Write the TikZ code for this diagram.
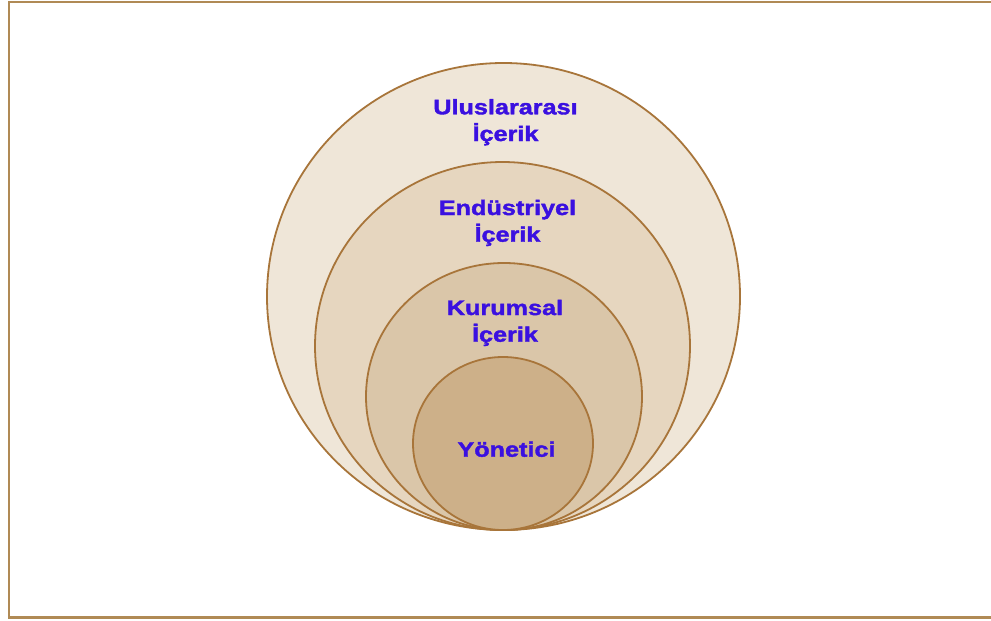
\documentclass[tikz,border=0pt]{standalone}
\usepackage{fontspec}
\newfontfamily\labfont[FakeStretch=1.2, FakeBold=1.8]{Liberation Sans Bold}
\begin{document}
\begin{tikzpicture}[x=1pt,y=-1pt,
  ring/.style={draw=ringline, line width=1.8pt},
  lab/.style={text=labblue, font=\labfont\fontsize{21}{26.7}\selectfont, align=center, anchor=base, inner sep=0pt}]
\definecolor{ringline}{HTML}{A8753A}
\definecolor{frameline}{HTML}{B08A55}
\definecolor{labblue}{HTML}{3A10E0}
\definecolor{fillA}{HTML}{EFE6D8}
\definecolor{fillB}{HTML}{E6D6BF}
\definecolor{fillC}{HTML}{DAC6A9}
\definecolor{fillD}{HTML}{CDB089}
\useasboundingbox (0,0) rectangle (991,621);
\begin{scope}
\clip (0,0) rectangle (991,621);
\draw[frameline, line width=2.2pt] (9,1.8) rectangle (1000,617.5);
\end{scope}
\draw[ring, fill=fillA] (503.5,296.5) ellipse [x radius=236.5, y radius=233.5];
\draw[ring, fill=fillB] (502.5,346) ellipse [x radius=187.5, y radius=184];
\draw[ring, fill=fillC] (504,396.5) ellipse [x radius=138, y radius=133.5];
\draw[ring, fill=fillD] (503,443.5) ellipse [x radius=90, y radius=86.5];
\node[lab] (intl) at (505.5,141) {Uluslararası\\İçerik};
\node[lab] (ind) at (507.5,241.7) {Endüstriyel\\İçerik};
\node[lab] (corp) at (505,341.7) {Kurumsal\\İçerik};
\node[lab] (exec) at (506.5,456.7) {Yönetici};
\end{tikzpicture}
\end{document}
